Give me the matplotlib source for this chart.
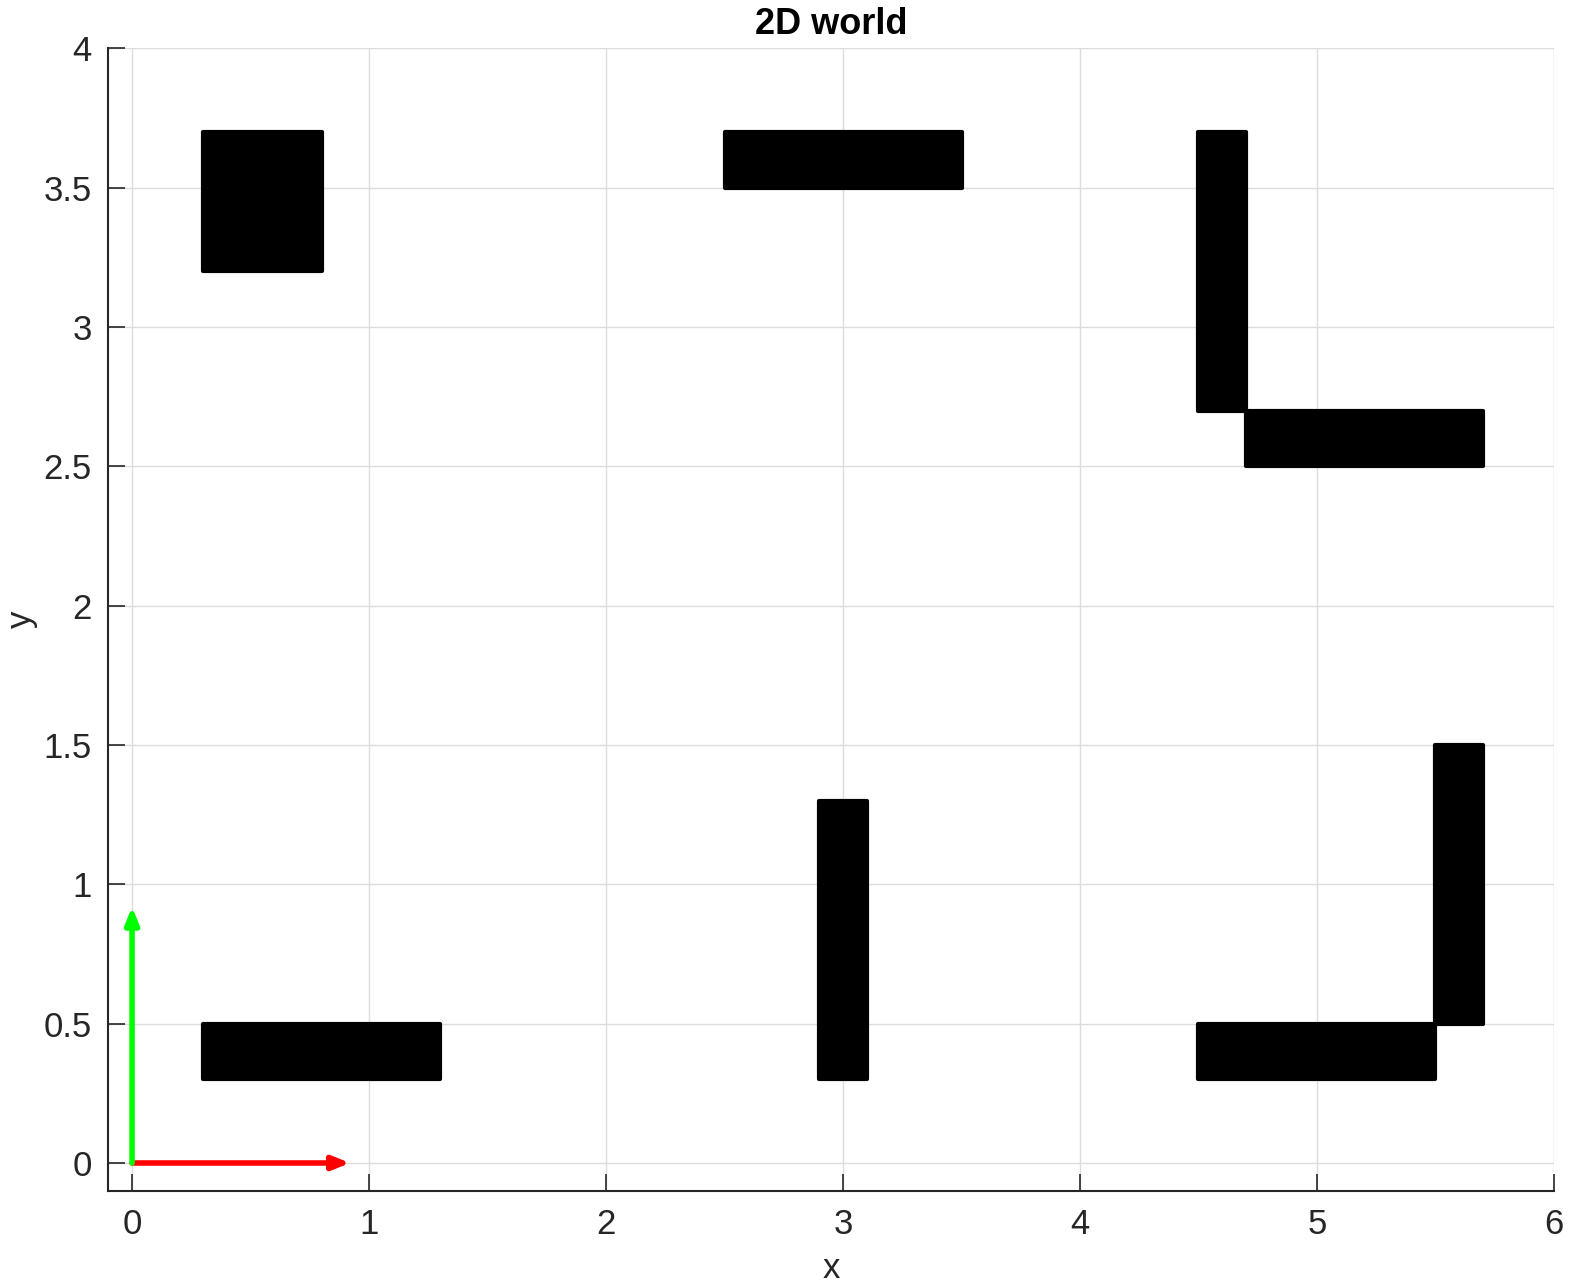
import matplotlib
matplotlib.use('Agg')
import matplotlib.pyplot as plt
from matplotlib.patches import Rectangle

plt.rcParams['font.family'] = ['Liberation Sans', 'DejaVu Sans']

# obstacles: (x0, y0, width, height)
obs_x = [0.3, 2.5, 4.5, 4.7, 0.3, 2.9, 4.5, 5.5]
obs_y = [3.2, 3.5, 2.7, 2.5, 0.3, 0.3, 0.3, 0.5]
obs_w = [0.5, 1.0, 0.2, 1.0, 1.0, 0.2, 1.0, 0.2]
obs_h = [0.5, 0.2, 1.0, 0.2, 0.2, 1.0, 0.2, 1.0]

# frame axes at origin
axis_len = 0.92

AX_COLOR = '#262626'

fig = plt.figure(figsize=(15.73, 12.87), dpi=100)
ax = fig.add_axes([0.0689, 0.0747, 0.919, 0.8878])

for x0, y0, w, h in zip(obs_x, obs_y, obs_w, obs_h):
    ax.add_patch(Rectangle((x0, y0), w, h, facecolor='black', edgecolor='black',
                           linewidth=3, joinstyle='round', zorder=3))

ax.annotate('', xy=(axis_len, 0), xytext=(0, 0),
            arrowprops=dict(arrowstyle='-|>,head_length=1.0,head_width=0.4',
                            color='#ff0000', lw=4, shrinkA=0, shrinkB=0), zorder=4)
ax.annotate('', xy=(0, axis_len), xytext=(0, 0),
            arrowprops=dict(arrowstyle='-|>,head_length=1.0,head_width=0.4',
                            color='#00ff00', lw=4, shrinkA=0, shrinkB=0), zorder=4)

ax.set_xlim(-0.1, 6)
ax.set_ylim(-0.1, 4)
ax.set_xticks([0, 1, 2, 3, 4, 5, 6])
ax.set_xticklabels(['0', '1', '2', '3', '4', '5', '6'])
ax.set_yticks([0, 0.5, 1, 1.5, 2, 2.5, 3, 3.5, 4])
ax.set_yticklabels(['0', '0.5', '1', '1.5', '2', '2.5', '3', '3.5', '4'])

ax.grid(True, color='#dcdcdc', linewidth=1)
ax.set_axisbelow(True)
ax.spines['top'].set_visible(False)
ax.spines['right'].set_visible(False)
for s in ('left', 'bottom'):
    ax.spines[s].set_color(AX_COLOR)
    ax.spines[s].set_linewidth(1.5)
ax.tick_params(direction='in', length=12, width=1.2, colors=AX_COLOR,
               labelsize=25, pad=12)

ax.set_xlabel('x', fontsize=25, color=AX_COLOR, labelpad=8)
ax.set_ylabel('y', fontsize=25, color=AX_COLOR, labelpad=4)
ax.set_title('2D world', fontsize=26, fontweight='bold', color='black', pad=10)

fig.savefig('out.png', dpi=100)
